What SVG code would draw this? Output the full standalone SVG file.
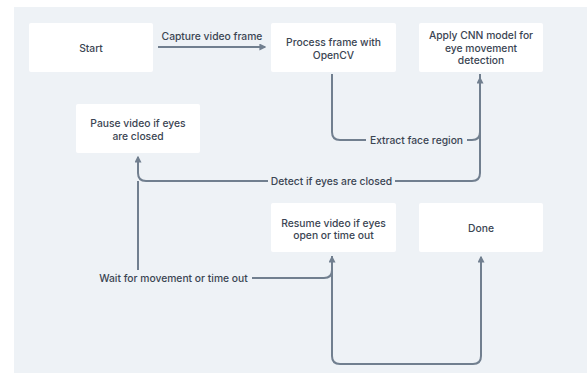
<svg xmlns="http://www.w3.org/2000/svg" width="587" height="373" viewBox="0 0 587 373">
<defs>
<style>
.node rect{fill:#ffffff;}
.node text,.lbl text{font-family:Inter,"Noto Sans",sans-serif;font-size:10.3px;font-weight:500;fill:#3b4553;text-anchor:middle;dominant-baseline:central;}
.edge{fill:none;stroke:#717f8f;stroke-width:2;}
.lbl rect{fill:#eef2f6;}
</style>
<marker id="ah" viewBox="0 0 10 10" refX="8" refY="5" markerWidth="3.5" markerHeight="3.5" orient="auto-start-reverse" markerUnits="strokeWidth">
<path d="M0,0 L10,5 L0,10 z" fill="#717f8f"/>
</marker>
</defs>
<rect x="0" y="0" width="587" height="373" fill="#ffffff"/>
<rect x="14" y="7" width="573" height="366" fill="#eef2f6"/>
<g id="connectors">
<path class="edge" d="M158,47 H265" marker-end="url(#ah)"/>
<path class="edge" d="M332,74 V132 Q332,140 340,140 H472 Q480,140 480,132 V78" marker-end="url(#ah)"/>
<path class="edge" d="M480,74 V173 Q480,181 472,181 H146 Q138,181 138,173 V157" marker-end="url(#ah)"/>
<path class="edge" d="M138,181 V270"/>
<path class="edge" d="M252,278 H324 Q332,278 332,270 V257" marker-end="url(#ah)"/>
<path class="edge" d="M332,256 V356 Q332,364 340,364 H473 Q481,364 481,356 V257" marker-end="url(#ah)"/>
<g class="lbl">
<text x="212" y="36">Capture video frame</text>
<rect x="366" y="133" width="101" height="14"/>
<text x="416.5" y="140">Extract face region</text>
<rect x="268" y="174" width="127" height="14"/>
<text x="331.5" y="181">Detect if eyes are closed</text>
<rect x="95" y="271" width="157" height="14"/>
<text x="173.5" y="278">Wait for movement or time out</text>
</g>
</g>
<g id="start" class="node"><rect x="29" y="23" width="124" height="49" rx="2"/><text x="91" y="47.5">Start</text></g>
<g id="process" class="node"><rect x="271" y="23" width="125" height="49" rx="2"/><text x="333.5" y="42">Process frame with</text><text x="333.5" y="55">OpenCV</text></g>
<g id="apply" class="node"><rect x="419" y="23" width="124" height="49" rx="2"/><text x="481" y="35">Apply CNN model for</text><text x="481" y="47.5">eye movement</text><text x="481" y="60">detection</text></g>
<g id="pause" class="node"><rect x="76" y="104" width="124" height="49" rx="2"/><text x="138" y="123">Pause video if eyes</text><text x="138" y="136">are closed</text></g>
<g id="resume" class="node"><rect x="271" y="203" width="125" height="49" rx="2"/><text x="333.5" y="222.5">Resume video if eyes</text><text x="333.5" y="234.5">open or time out</text></g>
<g id="done" class="node"><rect x="419" y="203" width="124" height="49" rx="2"/><text x="481" y="228">Done</text></g>
</svg>
